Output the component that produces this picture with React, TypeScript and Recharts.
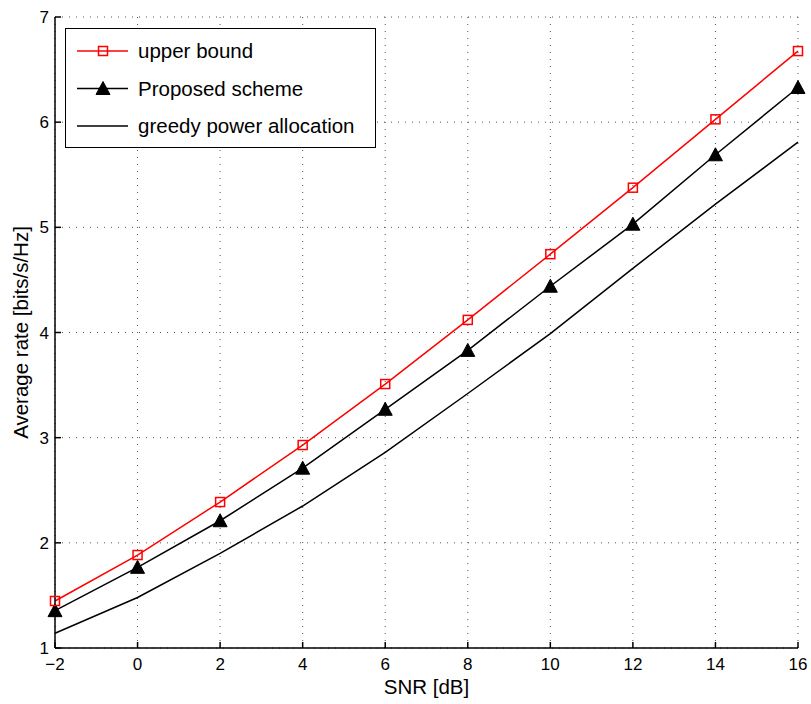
import React from "react";
import { LineChart, Line, XAxis, YAxis, CartesianGrid, Legend } from "recharts";

const snr = [-2, 0, 2, 4, 6, 8, 10, 12, 14, 16];
const upperBound = [1.447, 1.884, 2.388, 2.93, 3.51, 4.12, 4.745, 5.377, 6.027, 6.676];
const proposed = [1.355, 1.767, 2.21, 2.71, 3.27, 3.83, 4.44, 5.03, 5.69, 6.33];
const greedy = [1.14, 1.48, 1.9, 2.35, 2.86, 3.42, 3.99, 4.61, 5.22, 5.81];
const xTicks = [-2, 0, 2, 4, 6, 8, 10, 12, 14, 16];
const yTicks = [1, 2, 3, 4, 5, 6, 7];

const data = snr.map((s, i) => ({ snr: s, upper: upperBound[i], proposed: proposed[i], greedy: greedy[i] }));

const FONT = "'Liberation Sans', Arial, Helvetica, sans-serif";

const Square = (props: any) => {
  const { cx, cy } = props;
  if (cx == null || cy == null) return null;
  return <rect x={cx - 4.5} y={cy - 4.5} width={9} height={9} fill="none" stroke="#ff0000" strokeWidth={1.5} />;
};

const Triangle = (props: any) => {
  const { cx, cy } = props;
  if (cx == null || cy == null) return null;
  return <polygon points={`${cx},${cy - 7} ${cx - 7},${cy + 6} ${cx + 7},${cy + 6}`} fill="#000" stroke="#000" />;
};

const LegendBox = () => {
  const rows = [
    { label: "upper bound", color: "#ff0000", marker: "square" },
    { label: "Proposed scheme", color: "#000", marker: "triangle" },
    { label: "greedy power allocation", color: "#000", marker: "none" },
  ];
  return (
    <svg width={311} height={120} style={{ display: "block" }}>
      <rect x={0.5} y={0.5} width={310} height={119} fill="#fff" stroke="#000" strokeWidth={1} />
      {rows.map((r, i) => {
        const y = 23 + i * 37.5;
        return (
          <g key={r.label}>
            <line x1={12} x2={63} y1={y} y2={y} stroke={r.color} strokeWidth={1.5} />
            {r.marker === "square" && <Square cx={38} cy={y} />}
            {r.marker === "triangle" && <Triangle cx={38} cy={y} />}
            <text x={73} y={y + 7} fontSize={20.5} fontFamily={FONT} fill="#000">{r.label}</text>
          </g>
        );
      })}
    </svg>
  );
};

const fmt = (v: number) => String(v).replace("-", "\u2212");

export default function App() {
  return (
    <div style={{ position: "absolute", left: 0, top: 0, background: "#fff" }}>
      <LineChart width={811} height={704} data={data} margin={{ top: 17, right: 13, bottom: 0, left: 0 }}>
        <CartesianGrid stroke="#555" strokeDasharray="1 6" horizontalValues={yTicks} verticalValues={xTicks} />
        <XAxis
          dataKey="snr"
          type="number"
          domain={[-2, 16]}
          ticks={xTicks}
          tickFormatter={fmt}
          height={56}
          tickSize={-6}
          tickMargin={16}
          stroke="#000"
          strokeWidth={1.5}
          tick={{ fill: "#000", fontSize: 17, fontFamily: FONT }}
          label={(p: any) => {
            const vb = p.viewBox || {};
            return (
              <text x={vb.x + vb.width / 2} y={694} textAnchor="middle" fontSize={20.5} fontFamily={FONT} fill="#000">
                SNR [dB]
              </text>
            );
          }}
        />
        <XAxis xAxisId="top" dataKey="snr" type="number" domain={[-2, 16]} ticks={xTicks} orientation="top" height={0} tickSize={-6} tick={false} stroke="#000" strokeWidth={1.5} />
        <YAxis
          type="number"
          domain={[1, 7]}
          ticks={yTicks}
          width={55}
          tickSize={-6}
          tickMargin={12}
          stroke="#000"
          strokeWidth={1.5}
          tick={{ fill: "#000", fontSize: 17, fontFamily: FONT }}
          label={(p: any) => {
            const vb = p.viewBox || {};
            const cy = vb.y + vb.height / 2;
            return (
              <text x={28} y={cy} transform={`rotate(-90 28 ${cy})`} textAnchor="middle" fontSize={20.5} fontFamily={FONT} fill="#000">
                Average rate [bits/s/Hz]
              </text>
            );
          }}
        />
        <YAxis yAxisId="right" type="number" domain={[1, 7]} ticks={yTicks} orientation="right" width={0} tickSize={-6} tick={false} stroke="#000" strokeWidth={1.5} />
        <Line dataKey="greedy" stroke="#000" strokeWidth={1.5} dot={false} isAnimationActive={false} />
        <Line dataKey="proposed" stroke="#000" strokeWidth={1.5} dot={<Triangle />} isAnimationActive={false} />
        <Line dataKey="upper" stroke="#ff0000" strokeWidth={1.5} dot={<Square />} isAnimationActive={false} />
        <Legend
          layout="vertical"
          align="center"
          verticalAlign="middle"
          content={() => <LegendBox />}
          wrapperStyle={{ left: 65, top: 28, width: 311, height: 120 }}
        />
      </LineChart>
    </div>
  );
}
